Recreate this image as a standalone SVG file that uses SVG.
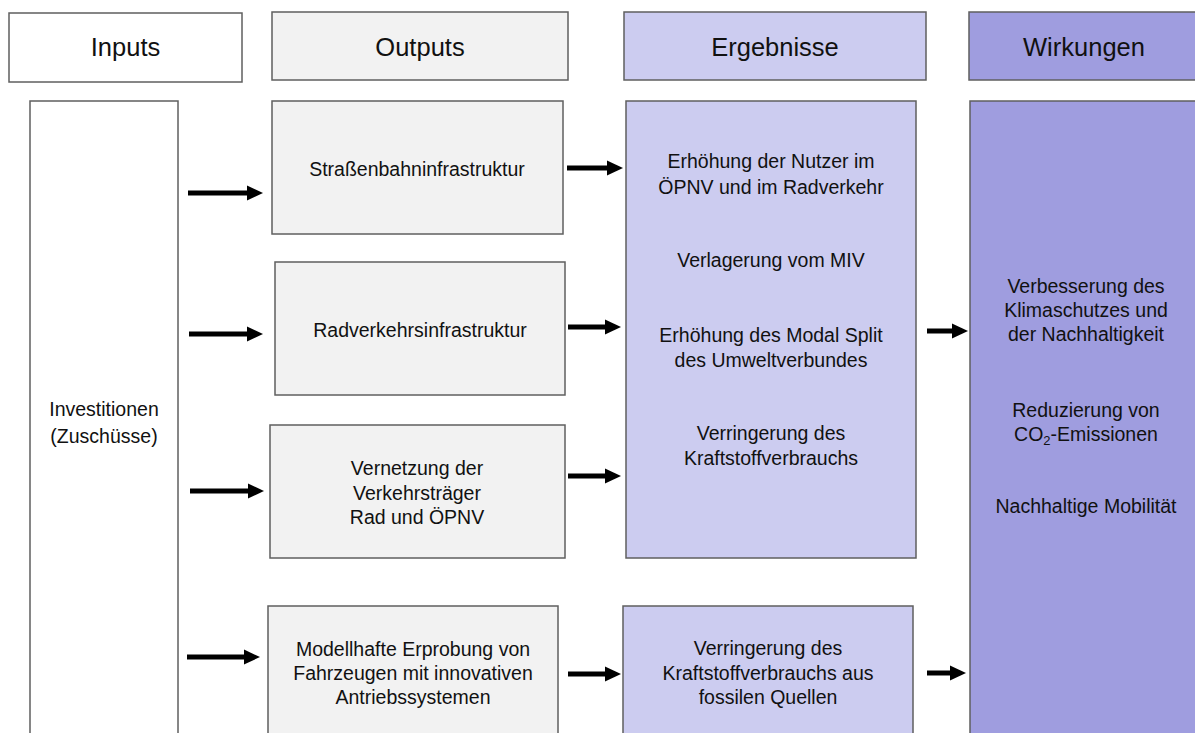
<svg xmlns="http://www.w3.org/2000/svg" width="1195" height="733" viewBox="0 0 1195 733">
<style>
.b{stroke:#5f5f5f;stroke-width:1.5}
.w{fill:#ffffff}.g{fill:#f2f2f2}.l{fill:#ccccf0}.d{fill:#9f9ddf}
text{font-family:"Liberation Sans",Arial,sans-serif;fill:#111;text-anchor:middle}
.h{font-size:25.5px}
.t{font-size:19.5px}
.c line{stroke:#000;stroke-width:5;marker-end:url(#ah)}
</style>
<defs>
<marker id="ah" markerUnits="userSpaceOnUse" markerWidth="16" markerHeight="16" refX="8" refY="7.5" orient="auto" viewBox="0 0 16 15">
<path d="M0,0 L16,7.5 L0,15 z" fill="#000"/>
</marker>
</defs>
<rect width="1195" height="733" fill="#fff"/>
<g id="h-inputs"><rect class="b w" x="9" y="13" width="233" height="69"/><text class="h" x="125.5" y="56">Inputs</text></g>
<g id="h-outputs"><rect class="b g" x="272" y="12" width="296" height="68"/><text class="h" x="420" y="56">Outputs</text></g>
<g id="h-ergebnisse"><rect class="b l" x="624" y="12" width="302" height="68"/><text class="h" x="775" y="56">Ergebnisse</text></g>
<g id="h-wirkungen"><rect class="b d" x="969" y="12" width="240" height="68"/><text class="h" x="1084" y="56">Wirkungen</text></g>
<g id="investitionen"><rect class="b w" x="30" y="101" width="148" height="650"/><text class="t" x="104" y="416">Investitionen</text><text class="t" x="104" y="443">(Zuschüsse)</text></g>
<g id="strassenbahn"><rect class="b g" x="272" y="101" width="291" height="133"/><text class="t" x="417" y="176">Straßenbahninfrastruktur</text></g>
<g id="radverkehr"><rect class="b g" x="275" y="262" width="290" height="133"/><text class="t" x="420" y="337">Radverkehrsinfrastruktur</text></g>
<g id="vernetzung"><rect class="b g" x="270" y="425" width="295" height="133"/><text class="t" x="417" y="475">Vernetzung der</text><text class="t" x="417" y="499.5">Verkehrsträger</text><text class="t" x="417" y="524">Rad und ÖPNV</text></g>
<g id="modellhafte"><rect class="b g" x="268" y="606" width="290" height="145"/><text class="t" x="413" y="656">Modellhafte Erprobung von</text><text class="t" x="413" y="680">Fahrzeugen mit innovativen</text><text class="t" x="413" y="704">Antriebssystemen</text></g>
<g id="ergebnisse"><rect class="b l" x="626" y="101" width="290" height="457"/>
<text class="t" x="771" y="168">Erhöhung der Nutzer im</text><text class="t" x="771" y="194">ÖPNV und im Radverkehr</text>
<text class="t" x="771" y="267">Verlagerung vom MIV</text>
<text class="t" x="771" y="342">Erhöhung des Modal Split</text><text class="t" x="771" y="367">des Umweltverbundes</text>
<text class="t" x="771" y="440">Verringerung des</text><text class="t" x="771" y="465">Kraftstoffverbrauchs</text></g>
<g id="verringerung-fossil"><rect class="b l" x="623" y="606" width="290" height="145"/><text class="t" x="768" y="655">Verringerung des</text><text class="t" x="768" y="680">Kraftstoffverbrauchs aus</text><text class="t" x="768" y="704">fossilen Quellen</text></g>
<g id="wirkungen"><rect class="b d" x="970" y="101" width="240" height="650"/>
<text class="t" x="1086" y="293">Verbesserung des</text><text class="t" x="1086" y="317">Klimaschutzes und</text><text class="t" x="1086" y="341">der Nachhaltigkeit</text>
<text class="t" x="1086" y="417">Reduzierung von</text><text class="t" x="1086" y="441">CO<tspan font-size="13" dy="4">2</tspan><tspan dy="-4">-Emissionen</tspan></text>
<text class="t" x="1086" y="513">Nachhaltige Mobilität</text></g>
<g id="connectors" class="c">
<line x1="188" y1="193" x2="255" y2="193"/>
<line x1="567" y1="168" x2="615" y2="168"/>
<line x1="189" y1="334" x2="255" y2="334"/>
<line x1="568" y1="327" x2="613" y2="327"/>
<line x1="190" y1="491" x2="256" y2="491"/>
<line x1="568" y1="476" x2="613" y2="476"/>
<line x1="187" y1="657" x2="252" y2="657"/>
<line x1="568" y1="674" x2="613" y2="674"/>
<line x1="927" y1="331" x2="960" y2="331"/>
<line x1="927" y1="673" x2="958" y2="673"/>
</g>
</svg>
